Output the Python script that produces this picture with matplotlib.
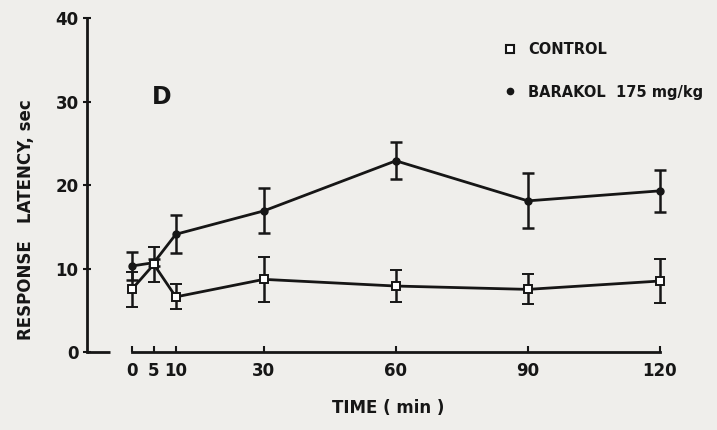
import matplotlib
matplotlib.use("Agg")
import matplotlib.pyplot as plt
from matplotlib.lines import Line2D

# ---- data ----
time_min = [0, 5, 10, 30, 60, 90, 120]
control_mean = [7.5, 10.5, 6.6, 8.7, 7.9, 7.5, 8.5]
control_err = [2.1, 2.1, 1.5, 2.7, 1.9, 1.8, 2.6]
barakol_mean = [10.3, 10.7, 14.1, 16.9, 22.9, 18.1, 19.3]
barakol_err = [1.7, 0.4, 2.3, 2.7, 2.2, 3.3, 2.5]
x_ticks = [0, 5, 10, 30, 60, 90, 120]
y_ticks = [0, 10, 20, 30, 40]
control_label = "CONTROL"
barakol_label = "BARAKOL  175 mg/kg"
panel_label = "D"
x_label = "TIME ( min )"
y_label = "RESPONSE   LATENCY, sec"

BG = "#efeeeb"
INK = "#161616"

plt.rcParams['font.family'] = ['DejaVu Sans']

fig = plt.figure(figsize=(7.17, 4.30), dpi=100, facecolor=BG)
ax = fig.add_axes([0.1213, 0.1814, 0.8787, 0.7767])
ax.set_facecolor(BG)

ax.errorbar(time_min, barakol_mean, yerr=barakol_err, color=INK,
            lw=2, elinewidth=1.8, capsize=4, capthick=1.8, marker='o',
            markersize=5, markerfacecolor=INK, markeredgecolor=INK, zorder=3)
ax.errorbar(time_min, control_mean, yerr=control_err, color=INK,
            lw=2, elinewidth=1.8, capsize=4, capthick=1.8, marker='s',
            markersize=6, markerfacecolor='white', markeredgecolor=INK,
            markeredgewidth=1.4, zorder=4)

ax.set_xlim(-10.2, 133)
ax.set_ylim(0, 40)

for s in ['top', 'right']:
    ax.spines[s].set_visible(False)
ax.spines['left'].set_linewidth(2)
ax.spines['left'].set_color(INK)
ax.spines['bottom'].set_linewidth(2)
ax.spines['bottom'].set_color(INK)
ax.spines['bottom'].set_bounds(0, 120)
# short stub from the y axis along zero
ax.plot([-10.2, -5], [0, 0], color=INK, lw=2, clip_on=False, solid_capstyle='butt')

ax.set_xticks(x_ticks)
ax.set_xticklabels([str(t) for t in x_ticks])
ax.set_yticks(y_ticks)
ax.tick_params(axis='x', direction='in', length=4, width=1.5, colors=INK,
               labelsize=12, pad=7)
ax.tick_params(axis='y', direction='inout', length=6, width=1.5, colors=INK,
               labelsize=12, pad=3)
for lab in ax.get_xticklabels() + ax.get_yticklabels():
    lab.set_fontweight('bold')

ax.set_xlabel(x_label, fontsize=12, fontweight='bold', color=INK)
ax.xaxis.set_label_coords(0.478, -0.142)
ax.set_ylabel(y_label, fontsize=12, fontweight='bold', color=INK)
ax.yaxis.set_label_coords(-0.082, 0.395)

ax.text(162 / 717, 1 - 97 / 430, panel_label, transform=fig.transFigure,
        fontsize=17, fontweight='bold', color=INK, ha='center', va='center')

handles = [
    Line2D([], [], linestyle='none', marker='s', markersize=6,
           markerfacecolor='white', markeredgecolor=INK, markeredgewidth=1.5),
    Line2D([], [], linestyle='none', marker='o', markersize=4.5,
           markerfacecolor=INK, markeredgecolor=INK),
]
leg = fig.legend(handles, [control_label, barakol_label], loc='upper left',
                 bbox_to_anchor=(497 / 717, 1 - 36 / 430), frameon=False,
                 fontsize=10.5, labelspacing=1.9, handlelength=1.0,
                 handletextpad=0.75, borderaxespad=0)
for t in leg.get_texts():
    t.set_fontweight('bold')
    t.set_color(INK)

fig.savefig("out.png", dpi=100, facecolor=BG)
